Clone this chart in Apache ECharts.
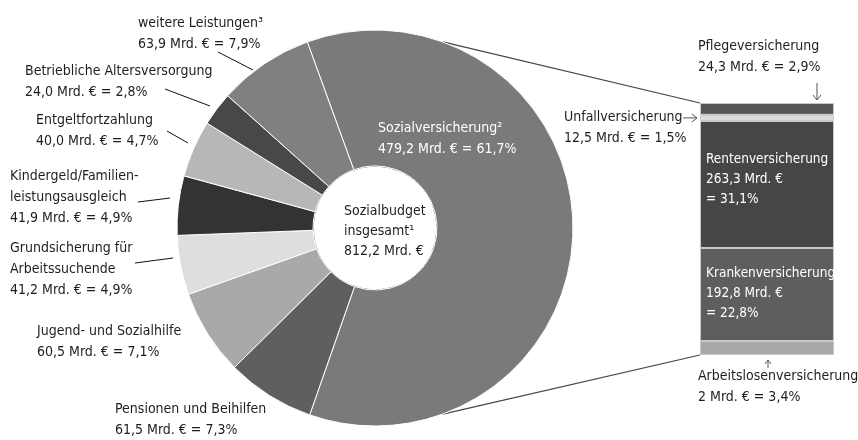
<!DOCTYPE html>
<html>
<head>
<meta charset="utf-8">
<script src="https://cdn.jsdelivr.net/npm/echarts@6/dist/echarts.min.js"></script>
<style>
  html, body { margin: 0; padding: 0; background: #fff; }
  #chart { width: 858px; height: 440px; }
</style>
</head>
<body>
<div id="chart"></div>
<script>
// data
const pieNames = ['Sozialversicherung²', 'Pensionen und Beihilfen', 'Jugend- und Sozialhilfe',
  'Grundsicherung für\nArbeitssuchende', 'Kindergeld/Familien-\nleistungsausgleich',
  'Entgeltfortzahlung', 'Betriebliche Altersversorgung', 'weitere Leistungen³']
const pieAmounts = ['479,2', '61,5', '60,5', '41,2', '41,9', '40,0', '24,0', '63,9']
const piePercents = [61.7, 7.3, 7.1, 4.9, 4.9, 4.7, 2.8, 7.9]

// stacked bar, bottom to top
const barNames = ['Arbeitslosenversicherung', 'Krankenversicherung', 'Rentenversicherung',
  'Unfallversicherung', 'Pflegeversicherung']
const barAmounts = ['2', '192,8', '263,3', '12,5', '24,3']
const barPercents = [3.4, 22.8, 31.1, 1.5, 2.9]

const totalText = 'Sozialbudget\ninsgesamt¹\n812,2 Mrd. €'

// layout and styles
const FONT = "'DejaVu Sans Condensed', 'Liberation Sans Narrow', 'Roboto', sans-serif"
const FS = 14
const TEXT = '#1e1e1e'
const CX = 375
const CY = 228
const R_OUT = 198
const R_IN = 62
const BAR_LEFT = 700
const BAR_TOP = 103
const BAR_W = 134
const BAR_H = 252

const pieColors = ['#7a7a7a', '#5f5f5f', '#a9a9a9', '#dedede', '#333333', '#b7b7b7', '#484848', '#808080']
const barColors = ['#a8a8a8', '#5e5e5e', '#464646', '#dcdcdc', '#555555']

// top-left corner of each pie label, and its leader line
const pieLabelPos = [[378, 118], [115, 399], [37, 321], [10, 238], [10, 166], [36, 110], [25, 61], [138, 13]]
const pieLabelLines = [null, null, null,
  [[135, 263], [173, 258]],
  [[138, 202], [170, 198]],
  [[167, 131], [188, 143]],
  [[165, 89], [210, 106]],
  [[218, 52], [253, 70]]]

// label offsets relative to each bar segment
const barLabelPos = [[-2, 25], [6, 16], [6, 29], [-136, -8], [-2, -67]]
const barLabelInside = [false, true, true, false, false]

const fmt = (v) => v.toFixed(1).replace('.', ',')

const chart = echarts.init(document.getElementById('chart'))

const pieData = pieNames.map((name, i) => ({
  name: name,
  value: piePercents[i],
  itemStyle: { color: pieColors[i] },
  label: i === 0
    ? { position: 'inside', color: '#fff' }
    : { position: 'outside', color: TEXT },
  labelLine: { show: !!pieLabelLines[i] }
}))

const barSeries = barNames.map((name, i) => ({
  type: 'bar',
  name: name,
  stack: 'sv',
  barWidth: '100%',
  data: [barPercents[i]],
  itemStyle: { color: barColors[i], borderColor: '#c8c8c8', borderWidth: 1 },
  label: {
    show: true,
    position: barLabelPos[i],
    align: 'left',
    verticalAlign: 'top',
    fontFamily: FONT,
    fontSize: barLabelInside[i] ? 13.5 : FS,
    lineHeight: barLabelInside[i] ? 20 : 21,
    color: barLabelInside[i] ? '#fff' : TEXT,
    formatter: () => name + '\n' + barAmounts[i] + ' Mrd. €' +
      (barLabelInside[i] ? '\n' : ' ') + '= ' + fmt(barPercents[i]) + '%'
  },
  emphasis: { disabled: true }
}))

chart.setOption({
  backgroundColor: '#fff',
  animation: false,
  title: {
    text: totalText,
    left: 339,
    top: 196,
    textStyle: { fontFamily: FONT, fontSize: FS, fontWeight: 'normal', color: TEXT, lineHeight: 20 }
  },
  grid: { left: BAR_LEFT, top: BAR_TOP, width: BAR_W, height: BAR_H },
  xAxis: { type: 'category', data: ['Sozialversicherung'], show: false },
  yAxis: {
    type: 'value',
    min: 0,
    max: barPercents.reduce((a, b) => a + b, 0),
    show: false
  },
  series: [
    {
      type: 'pie',
      center: [CX, CY],
      radius: [R_IN, R_OUT],
      startAngle: 110,
      clockwise: true,
      avoidLabelOverlap: false,
      itemStyle: { borderColor: '#fff', borderWidth: 1 },
      label: {
        fontFamily: FONT,
        fontSize: FS,
        lineHeight: 21,
        formatter: (p) => p.name + '\n' + pieAmounts[p.dataIndex] + ' Mrd. € = ' +
          fmt(piePercents[p.dataIndex]) + '%'
      },
      labelLine: { lineStyle: { color: '#111', width: 1 }, length: 10, length2: 10 },
      labelLayout: (p) => {
        const i = p.dataIndex
        const out = { x: pieLabelPos[i][0], y: pieLabelPos[i][1], align: 'left', verticalAlign: 'top' }
        const ln = pieLabelLines[i]
        if (ln) out.labelLinePoints = [ln[0], ln[0], ln[1]]
        return out
      },
      emphasis: { disabled: true },
      data: pieData
    }
  ].concat(barSeries)
})

// decorations tied to the bar and pie geometry
const yPix = (v) => chart.convertToPixel({ yAxisIndex: 0 }, v)
const barBottom = yPix(0)
const barTop = yPix(barPercents.reduce((a, b) => a + b, 0))
const unfallMid = yPix(barPercents[0] + barPercents[1] + barPercents[2] + barPercents[3] / 2)
const ang = 70 * Math.PI / 180
const topEdge = [CX + R_OUT * Math.cos(ang), CY - R_OUT * Math.sin(ang)]
const botEdge = [CX + R_OUT * Math.cos(ang), CY + R_OUT * Math.sin(ang)]
const lineStyle = { stroke: '#444', lineWidth: 1.2, fill: null }
const arrowStyle = { stroke: '#555', lineWidth: 1, fill: null }
const ax = BAR_LEFT + 117

chart.setOption({
  graphic: [
    { type: 'circle', silent: true, shape: { cx: CX, cy: CY, r: R_IN }, style: { fill: null, stroke: '#555', lineWidth: 1 } },
    { type: 'line', silent: true, shape: { x1: topEdge[0], y1: topEdge[1], x2: BAR_LEFT, y2: barTop }, style: lineStyle },
    { type: 'line', silent: true, shape: { x1: botEdge[0], y1: botEdge[1], x2: BAR_LEFT, y2: barBottom }, style: lineStyle },
    // Pflege arrow
    { type: 'polyline', silent: true, shape: { points: [[ax, barTop - 20], [ax, barTop - 3]] }, style: arrowStyle },
    { type: 'polyline', silent: true, shape: { points: [[ax - 4, barTop - 8], [ax, barTop - 3], [ax + 4, barTop - 8]] }, style: arrowStyle },
    // Unfall arrow
    { type: 'polyline', silent: true, shape: { points: [[BAR_LEFT - 17, unfallMid], [BAR_LEFT - 3, unfallMid]] }, style: arrowStyle },
    { type: 'polyline', silent: true, shape: { points: [[BAR_LEFT - 8, unfallMid - 4], [BAR_LEFT - 3, unfallMid], [BAR_LEFT - 8, unfallMid + 4]] }, style: arrowStyle },
    // Arbeitslosen arrow
    { type: 'polyline', silent: true, shape: { points: [[BAR_LEFT + 68, barBottom + 13], [BAR_LEFT + 68, barBottom + 5]] }, style: arrowStyle },
    { type: 'polyline', silent: true, shape: { points: [[BAR_LEFT + 65, barBottom + 9], [BAR_LEFT + 68, barBottom + 5], [BAR_LEFT + 71, barBottom + 9]] }, style: arrowStyle }
  ]
})
</script>
</body>
</html>
